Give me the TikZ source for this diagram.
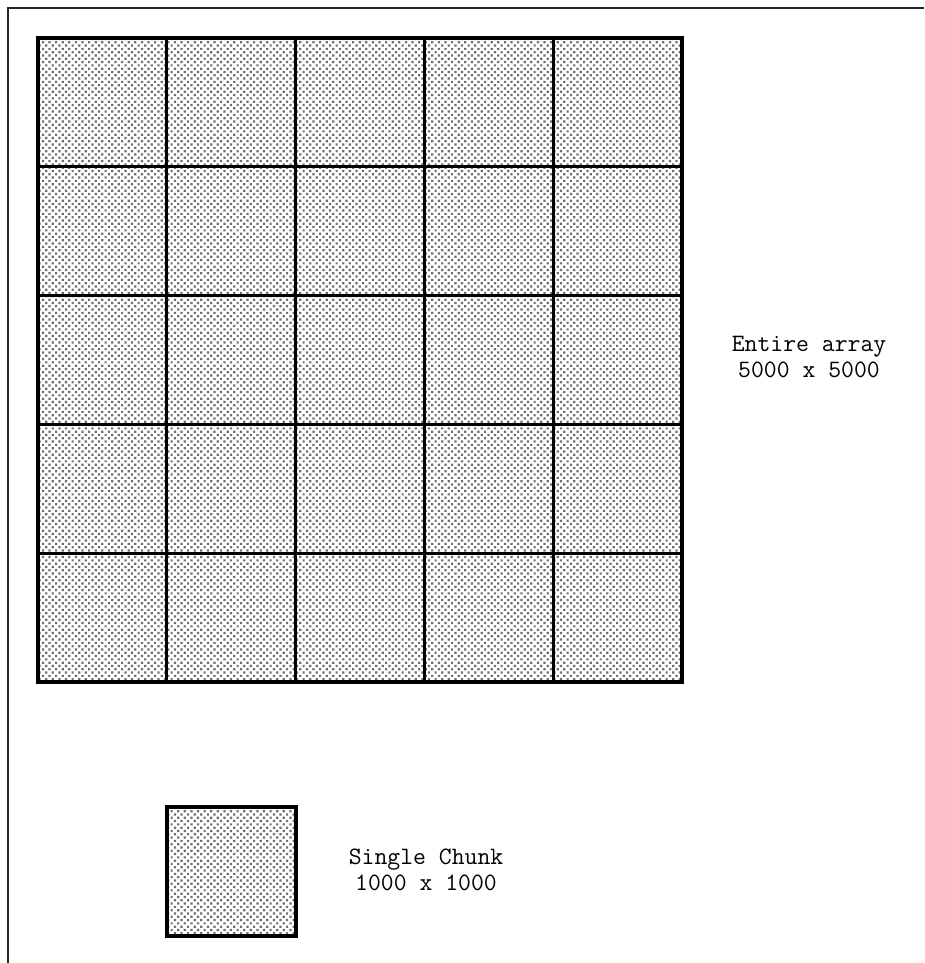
\documentclass[tikz,border=0pt]{standalone}
\usepackage{xcolor}
\definecolor{dotgray}{RGB}{110,110,110}
\usetikzlibrary{patterns, positioning}

% staggered dot raster of the chunks
\pgfdeclarepatternformonly{chunkdots}{\pgfqpoint{-1.1pt}{-1.1pt}}{\pgfqpoint{4.4pt}{4.4pt}}{\pgfqpoint{6.6pt}{6.6pt}}{
  \pgfpathrectangle{\pgfqpoint{-1.1pt}{-1.1pt}}{\pgfqpoint{2.2pt}{2.2pt}}
  \pgfpathrectangle{\pgfqpoint{2.2pt}{2.2pt}}{\pgfqpoint{2.2pt}{2.2pt}}
  \pgfusepath{fill}
}

\tikzset{
  chunkfill/.style={pattern=chunkdots, pattern color=dotgray},
  gridline/.style={line width=3pt},
  boxline/.style={line width=3.6pt},
  caption/.style={font=\ttfamily\fontsize{25}{26}\selectfont, align=center, inner sep=0pt}
}

\begin{document}
\begin{tikzpicture}[x=1pt, y=-1pt]
  \useasboundingbox (0,0) rectangle (924,963);

  % Frame (top and left edge only)
  \draw[line width=2.4pt, black!85] (8,963) -- (8,8) -- (924,8);

  % Entire array
  \fill[chunkfill] (38,38) rectangle (682,682);
  \foreach \k in {1,...,4}{
    \draw[gridline] ({38+128.8*\k},38) -- ({38+128.8*\k},682);
    \draw[gridline] (38,{38+128.8*\k}) -- (682,{38+128.8*\k});
  }
  \draw[boxline] (38,38) rectangle (682,682);
  \node[caption] (arraylabel) at (809,357) {Entire array\\5000 x 5000};

  % Single chunk
  \fill[chunkfill] (167,807) rectangle (296,936);
  \draw[boxline] (167,807) rectangle (296,936);
  \node[caption] (chunklabel) at (426,870) {Single Chunk\\1000 x 1000};
\end{tikzpicture}
\end{document}
